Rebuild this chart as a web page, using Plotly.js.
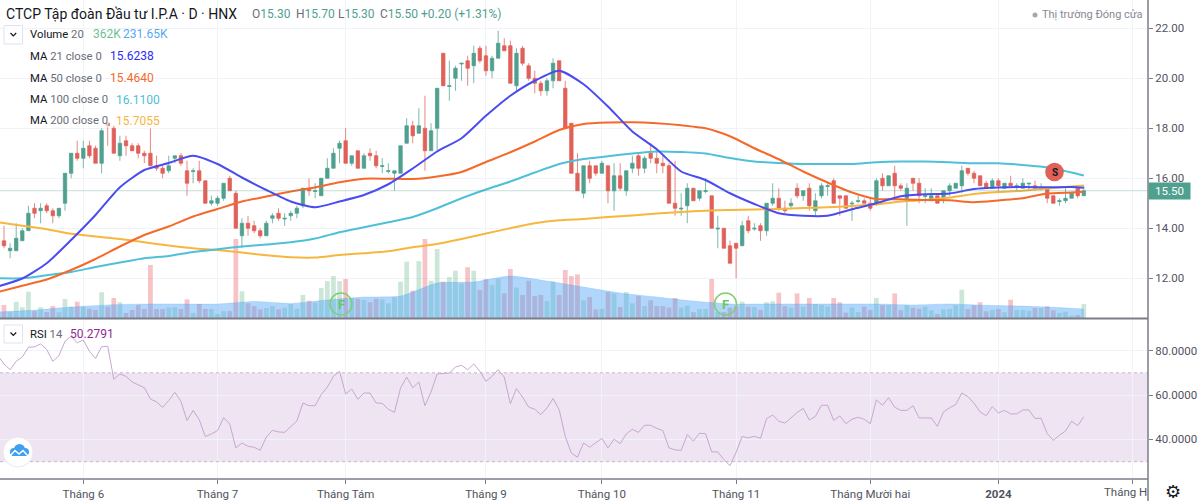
<!DOCTYPE html>
<html><head><meta charset="utf-8">
<script src="https://cdn.plot.ly/plotly-3.0.1.min.js"></script>
<style>html,body{margin:0;padding:0;background:#fff;overflow:hidden}#c{width:1200px;height:501px}</style>
</head><body><div id="c"></div>
<script>
const opens=[13.5,13.5,13.1,13.1,13.5,13.9,14.8,14.7,14.9,14.7,
14.5,15.0,16.2,17.0,16.8,17.3,17.2,16.6,18.2,18.0,
16.9,17.5,17.3,17.3,17.0,17.0,16.5,16.4,16.3,16.8,
16.9,16.3,16.27,16.3,15.9,15.0,15.0,15.2,16.0,15.4,
13.7,14.2,14.1,13.9,13.7,14.4,14.6,14.37,14.5,14.6,
14.9,15.6,15.47,15.3,16.0,16.4,17.2,17.5,16.6,17.1,
16.4,17.0,16.9,16.47,16.27,16.2,16.2,17.4,18.1,17.8,
18.0,17.1,18.0,21.0,19.67,20.0,20.57,20.7,20.5,21.2,
20.9,20.3,20.8,21.3,21.3,19.7,21.2,20.5,20.0,19.8,
19.5,19.9,20.7,19.6,18.2,16.2,15.4,16.5,16.5,16.2,
16.5,15.5,16.1,15.5,16.4,16.9,16.4,17.0,16.8,16.6,
16.5,15.0,14.77,14.9,15.6,15.2,15.47,15.3,13.97,14.0,
13.3,13.4,13.3,14.3,13.97,14.1,13.9,15.0,15.2,14.8,
14.9,15.6,15.3,15.6,14.7,15.3,15.67,15.9,15.3,15.3,
14.97,15.07,15.1,15.0,15.0,16.0,15.7,16.2,15.7,15.2,
16.0,15.8,15.27,15.1,15.3,15.2,15.5,15.6,15.7,16.4,
16.2,16.1,15.8,15.6,15.9,15.6,15.8,15.67,15.6,15.77,
15.7,15.57,15.6,15.3,15.07,15.1,15.2,15.6,15.3];
const highs=[13.6,14.1,13.4,14.2,14.0,14.9,15.0,15.0,15.0,14.8,
14.8,16.2,17.0,17.5,17.5,17.5,17.3,18.0,18.2,18.1,
17.7,17.7,17.4,17.4,17.1,18.0,16.9,16.5,16.9,16.9,
17.0,16.7,16.4,16.7,15.9,15.3,15.3,15.8,16.1,15.5,
14.4,14.5,14.3,14.0,14.3,14.6,14.8,14.6,14.7,14.9,
15.6,16.0,15.8,16.0,16.8,17.2,17.5,18.0,16.9,17.1,
17.0,17.2,17.1,16.8,16.6,16.3,17.3,18.4,18.3,18.8,
19.3,18.2,19.6,21.0,20.7,20.5,20.6,20.9,21.3,21.3,
21.3,20.9,21.9,21.6,21.5,21.2,21.3,20.6,20.3,19.9,
20.0,20.8,20.7,19.9,18.2,17.0,16.5,16.7,16.5,16.7,
16.5,16.6,16.6,16.3,16.9,17.0,16.9,17.4,17.2,16.9,
16.6,16.7,15.4,15.8,15.6,15.5,16.0,15.3,14.5,14.0,
13.5,13.4,14.3,14.5,14.2,14.2,15.0,15.8,15.6,15.1,
15.2,15.8,15.5,15.8,15.4,15.8,15.8,16.0,15.3,15.3,
15.1,15.3,15.2,15.2,16.0,16.2,16.1,16.5,15.8,15.8,
16.0,16.0,15.6,15.6,15.3,15.5,15.8,15.8,16.5,16.4,
16.3,16.1,15.9,16.0,16.0,15.8,16.1,15.8,16.0,15.8,
15.9,15.8,15.6,15.3,15.2,15.6,15.4,15.6,15.7];
const lows=[13.2,13.2,12.8,13.1,13.5,13.9,14.4,14.2,14.6,14.2,
14.4,14.7,16.0,16.7,16.4,16.8,16.6,16.2,17.3,17.0,
16.7,16.9,17.1,16.8,16.6,16.5,16.3,16.0,16.2,16.6,
16.5,15.3,15.8,15.8,15.0,14.9,14.9,15.1,15.5,14.0,
13.2,13.7,13.8,13.6,13.7,14.2,14.3,14.1,14.3,14.4,
14.8,15.3,15.2,15.3,16.0,16.4,16.6,16.6,16.5,16.4,
16.4,16.7,16.4,16.2,16.2,15.5,16.2,17.4,17.4,17.8,
16.3,17.1,17.1,19.7,19.1,19.5,19.9,19.7,19.8,20.6,
20.1,20.0,20.8,21.1,19.8,19.5,20.5,19.9,19.4,19.3,
19.3,19.6,19.9,18.0,16.2,15.5,15.2,15.8,16.1,16.2,
15.0,14.7,15.5,15.3,16.2,16.1,16.2,16.6,16.2,16.2,
15.0,14.5,14.5,14.2,15.1,15.1,15.4,14.0,13.2,13.2,
12.6,12.0,13.3,13.8,13.9,13.5,13.7,14.9,14.7,14.6,
14.8,15.2,15.1,14.7,14.5,15.2,15.3,15.0,14.5,14.8,
14.3,15.0,15.0,14.7,14.9,15.5,15.7,15.2,15.5,14.1,
15.5,15.0,15.0,15.1,15.0,15.0,15.3,15.6,15.4,16.1,
15.8,15.7,15.6,15.6,15.4,15.6,15.7,15.5,15.6,15.5,
15.5,15.5,15.0,15.0,14.9,15.0,15.2,15.2,15.3];
const closes=[13.3,13.3,13.2,13.6,13.9,14.6,14.6,14.8,14.7,14.5,
14.8,16.2,17.0,16.8,17.2,16.9,16.6,17.9,18.1,17.0,
17.4,17.3,17.1,17.0,16.9,16.5,16.4,16.2,16.5,16.9,
16.6,15.8,16.3,15.9,15.0,15.1,15.2,15.8,15.5,14.0,
14.2,14.0,13.9,13.7,14.2,14.5,14.4,14.4,14.6,14.8,
15.6,15.5,15.5,16.0,16.4,17.0,17.4,16.6,16.9,16.4,
16.9,16.9,16.5,16.5,16.3,16.3,17.3,18.1,17.7,18.1,
17.1,17.9,19.6,19.7,19.7,20.4,20.6,20.4,21.0,20.7,
20.3,20.8,21.4,21.1,19.8,21.0,20.6,20.0,19.8,19.5,
19.9,20.6,19.9,18.0,16.2,15.5,16.5,16.0,16.2,16.6,
15.5,16.1,15.6,16.3,16.6,16.4,16.8,16.8,16.6,16.5,
15.0,14.8,14.8,15.6,15.1,15.5,15.5,14.0,14.0,13.2,
12.6,13.2,14.1,13.9,14.0,13.9,15.0,15.2,14.8,14.7,
15.0,15.3,15.5,14.9,15.1,15.7,15.7,15.0,15.2,14.8,
15.0,15.1,15.0,14.8,15.9,15.7,16.1,15.7,15.6,15.6,
15.8,15.3,15.3,15.3,15.0,15.5,15.7,15.8,16.3,16.2,
16.0,15.7,15.6,15.9,15.7,15.8,15.7,15.7,15.8,15.8,
15.6,15.6,15.2,15.0,15.1,15.2,15.4,15.3,15.5];
const volumes=[340,340,165,425,280,685,180,280,155,310,
150,495,295,425,295,240,210,670,295,520,
410,130,210,340,235,1380,235,235,270,280,
235,485,130,365,235,235,105,180,180,2055,
695,380,310,225,260,310,225,270,365,240,
600,450,400,780,960,1090,960,1015,520,500,
470,410,500,485,380,540,945,1465,710,1480,
2055,970,1795,945,1065,1230,900,1320,1230,730,
1015,860,1015,640,1275,790,600,970,570,600,
440,945,600,1250,1090,1135,460,545,225,235,
675,640,285,675,380,570,310,460,310,310,
270,520,270,320,150,235,235,1015,155,155,
270,310,425,295,285,210,410,435,660,310,
270,640,295,520,365,340,295,520,410,140,
270,155,295,210,520,340,340,640,200,330,
270,240,295,200,105,225,235,330,735,235,
330,410,175,210,235,150,475,210,210,190,
260,260,305,200,130,165,60,80,362];
const rsiValues=[77.7,74.0,71.4,75.2,77.1,81.5,81.7,83.0,80.5,75.2,77.7,84.2,86.5,83.5,84.8,79.7,76.5,81.7,82.0,67.1,
69.5,68.4,65.9,64.7,63.3,58.2,56.9,54.5,57.5,61.2,57.2,48.5,53.1,48.9,41.3,42.5,44.0,49.8,47.0,36.2,
38.4,36.9,36.5,35.1,41.1,44.1,43.4,43.2,45.8,48.3,56.4,55.2,55.2,60.2,63.6,68.4,70.7,60.5,62.7,58.1,
60.9,60.9,56.4,56.3,53.6,52.2,63.2,68.1,63.3,65.9,55.2,61.4,69.5,69.8,69.9,72.6,73.4,71.4,74.0,70.7,
66.2,68.4,71.4,68.1,56.1,62.9,59.1,54.6,53.6,51.2,54.2,58.4,53.4,41.4,33.9,32.0,38.4,36.5,38.4,
40.5,36.2,40.1,38.1,42.5,44.6,43.2,46.4,46.4,45.0,44.0,36.2,35.3,35.1,42.2,39.3,42.8,42.6,34.4,34.4,
30.9,28.2,34.2,41.4,40.7,41.4,40.5,49.4,51.0,48.2,47.4,49.7,52.1,54.0,48.8,50.4,55.4,55.4,48.6,50.6,
47.1,49.1,50.0,49.1,47.1,57.8,55.4,58.8,54.5,53.1,53.1,55.2,49.7,49.7,49.7,45.9,52.4,54.3,55.7,60.9,
59.3,56.3,52.4,50.7,54.8,51.9,53.1,51.5,51.5,53.3,53.3,49.5,49.5,42.6,39.6,41.9,43.8,48.2,46.2,50.28];
const maBars=[0,4,8,12,16,20,24,28,32,36,40,44,48,52,56,60,64,68,72,76,80,84,88,92,96,100,104,108,112,116,120,124,128,132,136,140,144,148,152,156,160,164,168,172,176,178];
const ma21=[11.67,11.99,12.6,13.53,14.53,15.64,16.33,16.61,16.9,16.57,16.03,15.53,15.07,14.84,15.07,15.33,15.76,16.39,17.07,17.6,18.5,19.3,19.9,20.3,19.76,18.87,17.87,17.16,16.27,15.93,15.4,14.97,14.6,14.5,14.5,14.76,15.0,15.28,15.36,15.39,15.57,15.63,15.65,15.64,15.65,15.62];
const ma50=[11.45,11.7,11.95,12.33,12.77,13.27,13.73,14.07,14.47,14.77,15.07,15.27,15.47,15.63,15.84,15.98,15.98,15.97,16.07,16.25,16.65,17.04,17.47,17.93,18.17,18.23,18.24,18.2,18.12,18.0,17.68,17.2,16.76,16.27,15.83,15.43,15.17,15.16,15.13,15.12,15.04,15.11,15.2,15.39,15.43,15.46];
const ma100=[12,12,12.12,12.25,12.45,12.63,12.8,12.89,13.05,13.16,13.27,13.35,13.44,13.59,13.84,14.04,14.24,14.45,14.8,15.2,15.55,15.87,16.23,16.57,16.77,16.88,16.99,17.07,17.05,16.99,16.81,16.67,16.61,16.57,16.57,16.57,16.64,16.67,16.67,16.64,16.6,16.6,16.53,16.44,16.23,16.11];
const ma200=[14.24,14.1,13.96,13.78,13.67,13.57,13.44,13.31,13.2,13.13,13.03,12.92,12.84,12.83,12.93,13.0,13.08,13.24,13.37,13.57,13.79,14.0,14.2,14.32,14.37,14.45,14.51,14.59,14.65,14.7,14.73,14.75,14.77,14.81,14.84,14.89,14.96,15.07,15.13,15.23,15.37,15.45,15.5,15.59,15.67,15.71];
const volMaBars=[0,6,12,18,24,30,36,42,48,54,60,66,72,78,84,90,96,102,108,114,120,126,132,138,144,150,156,162,168,174,178];
const volMa=[155,205,285,340,365,365,365,430,380,470,545,570,910,935,1090,960,805,650,545,440,365,365,365,365,365,340,365,330,310,270,231.65];
const tickBars=[14,36,57,80,99,121,143,164,186];
const tickLabels=['Tháng 6','Tháng 7','Tháng Tám','Tháng 9','Tháng 10','Tháng 11','Tháng Mười hai','<b>2024</b>',''];
const rsiTicks=[40,60,80];
const bars=opens.map((_,i)=>i);
const FONT='Roboto,sans-serif';
const UP='#4fa08f',DOWN='#e0605a';
const PW=1148,PH=479;
const px=x=>x/PW, py=y=>(PH-y)/PH;
const volColors=bars.map(i=>closes[i]>=opens[i]?'rgba(96,180,135,0.32)':'rgba(232,90,100,0.36)');
const maLine=(name,y,color,w)=>({type:'scatter',mode:'lines',name,x:maBars,y,xaxis:'x',yaxis:'y',line:{color,width:w,shape:'spline',smoothing:0.6},hoverinfo:'skip'});
const traces=[
 {type:'bar',name:'Volume',x:bars,y:volumes,xaxis:'x',yaxis:'y3',marker:{color:volColors,line:{width:0}},width:0.78,hoverinfo:'skip'},
 {type:'scatter',mode:'lines',name:'Vol MA',x:volMaBars,y:volMa,xaxis:'x',yaxis:'y3',fill:'tozeroy',fillcolor:'rgba(66,160,245,0.42)',line:{color:'rgba(66,160,245,0.42)',width:0.5,shape:'spline',smoothing:0.6},hoverinfo:'skip'},
 {type:'candlestick',name:'IPA',x:bars,open:opens,high:highs,low:lows,close:closes,xaxis:'x',yaxis:'y',whiskerwidth:0,
  increasing:{line:{color:'rgba(79,160,143,0.75)',width:1},fillcolor:UP},decreasing:{line:{color:'rgba(224,96,90,0.75)',width:1},fillcolor:DOWN},hoverinfo:'skip'},
 maLine('MA 200',ma200,'#f7b63e',2),maLine('MA 100',ma100,'#4fc0d8',2),maLine('MA 50',ma50,'#f5692a',2),maLine('MA 21',ma21,'#4a4cf0',2),
 {type:'scatter',mode:'lines',name:'RSI',x:bars,y:rsiValues,xaxis:'x',yaxis:'y2',line:{color:'#c9a5d2',width:1},hoverinfo:'skip'}
];
const LBL=11.3,LF=12;
const note=(x,y,text,o={})=>Object.assign({xref:'paper',yref:'paper',x:px(x),y:py(y),text,showarrow:false,xanchor:'left',yanchor:'middle',borderpad:0,font:{family:FONT,size:LBL,color:'#6a6d78'}},o);
const span=(c,t)=>`<span style="color:${c}">${t}</span>`;
const DK='#131722',GR='#6a6d78',GN='#4fa08f';
const OHLC={family:FONT,size:12,color:GN};
const annotations=[
 note(5,14,'CTCP Tập đoàn Đầu tư I.P.A · D · HNX',{font:{family:FONT,size:14,color:DK}}),
 note(250.5,14,span(GR,'O')+'15.30',{font:OHLC}),
 note(295,14,span(GR,'H')+'15.70',{font:OHLC}),
 note(337,14,span(GR,'L')+'15.30',{font:OHLC}),
 note(379,14,span(GR,'C')+'15.50',{font:OHLC}),
 note(420,14,'+0.20 (+1.31%)',{font:OHLC}),
 note(1041,15,'Thị trường Đóng cửa',{font:{family:FONT,size:11,color:'#868993'}}),
 note(29,34.5,span(DK,'Volume')+' '+span(GR,'20')),
 note(92,34.5,'362K',{font:{family:FONT,size:LF,color:'#6fbf94'}}),
 note(122,34.5,'231.65K',{font:{family:FONT,size:LF,color:'#5aa9f0'}}),
 note(29,56.5,span(DK,'MA')+' '+span(GR,'21 close 0')),
 note(109,56.5,'15.6238',{font:{family:FONT,size:LF,color:'#2a2ef0'}}),
 note(29,78,span(DK,'MA')+' '+span(GR,'50 close 0')),
 note(109,78,'15.4640',{font:{family:FONT,size:LF,color:'#f5692a'}}),
 note(29,99.5,span(DK,'MA')+' '+span(GR,'100 close 0')),
 note(115,99.5,'16.1100',{font:{family:FONT,size:LF,color:'#4fc0d8'}}),
 note(29,121,span(DK,'MA')+' '+span(GR,'200 close 0'),{bgcolor:'rgba(255,255,255,0.6)'}),
 note(115,121,'15.7055',{font:{family:FONT,size:LF,color:'#f7b63e'},bgcolor:'rgba(255,255,255,0.6)'}),
 note(29,334,span(DK,'RSI')+' '+span(GR,'14')),
 note(69,334,'50.2791',{font:{family:FONT,size:LF,color:'#8e2a96'}}),
 note(1169.5,191.2,'15.50',{xanchor:'center',width:41,height:16,bgcolor:'#4fa08f',font:{family:FONT,size:11.5,color:'#ffffff'}}),
 note(1148,492,'Tháng H',{xanchor:'right',font:{family:FONT,size:11.5,color:'#50535e'}}),
 note(341,304,'<b>F</b>',{xanchor:'center',font:{family:FONT,size:13,color:'#6cc75c'}}),
 note(725.5,304,'<b>F</b>',{xanchor:'center',font:{family:FONT,size:13,color:'#6cc75c'}}),
 note(1054.5,172,'<b>S</b>',{xanchor:'center',font:{family:FONT,size:10,color:'#131722'}}),
 note(1173,491,'⚙',{xanchor:'center',font:{family:'DejaVu Sans',size:18,color:'#131722'}})
];
const pline=(x0,y0,x1,y1,color,w)=>({type:'line',xref:'paper',yref:'paper',x0:px(x0),y0:py(y0),x1:px(x1),y1:py(y1),line:{color,width:w},layer:'above'});
const circ=(cx,cy,r,fill,color,w)=>({type:'circle',xref:'paper',yref:'paper',x0:px(cx-r),x1:px(cx+r),y0:py(cy-r),y1:py(cy+r),fillcolor:fill,line:{color,width:w},layer:'above'});
const rect=(x0,y0,x1,y1,fill,color,w)=>({type:'rect',xref:'paper',yref:'paper',x0:px(x0),x1:px(x1),y0:py(y0),y1:py(y1),fillcolor:fill,line:{color,width:w},layer:'above'});
const poly=(pts,color,w)=>({type:'path',xref:'paper',yref:'paper',path:pts.map((p,i)=>(i?'L':'M')+px(p[0])+' '+py(p[1])).join(' '),line:{color,width:w},layer:'above'});
const AX='#7b7d88';
const shapes=[
 {type:'rect',xref:'paper',yref:'y2',x0:0,x1:1,y0:30,y1:70,fillcolor:'rgba(126,40,150,0.12)',line:{width:0},layer:'below'},
 {type:'line',xref:'paper',yref:'y2',x0:0,x1:1,y0:70,y1:70,line:{color:'#c7b5cc',width:1,dash:'dot'},layer:'above'},
 {type:'line',xref:'paper',yref:'y2',x0:0,x1:1,y0:30,y1:30,line:{color:'#c7b5cc',width:1,dash:'dot'},layer:'above'},
 {type:'line',xref:'paper',yref:'y',x0:0,x1:1,y0:closes[178],y1:closes[178],line:{color:'rgba(79,160,143,0.35)',width:1},layer:'above'},
 pline(0,318.5,1148,318.5,AX,2), pline(0,479,1148,479,AX,1.5), pline(1148,0,1148,501,AX,1.5),
 rect(4,25.5,22.5,44,'rgba(255,255,255,0.9)','#e0e3eb',1),
 poly([[10.5,33],[13.3,36],[16.2,33]],DK,1.2),
 rect(4,325,22.5,343,'rgba(255,255,255,0.9)','#e0e3eb',1),
 poly([[10.5,332.5],[13.3,335.5],[16.2,332.5]],DK,1.2),
 circ(341,304,11,'rgba(255,255,255,0)','#7fcf70',1.5),
 circ(725.5,304,11,'rgba(255,255,255,0)','#7fcf70',1.5),
 circ(1054.5,172,9.3,'#e0605a','#e0605a',0),
 circ(1035,15,2.5,'#a5a7b0','#a5a7b0',0),
 circ(18,452,15,'#ffffff','#e8e8ee',1),
 circ(14,452,4,'#3f9ff0','#3f9ff0',0),circ(19.5,449.5,5.5,'#3f9ff0','#3f9ff0',0),circ(25,452,4,'#3f9ff0','#3f9ff0',0),
 rect(12,451,27,456,'#3f9ff0','#3f9ff0',0),
 poly([[10,456],[15,450.5],[19,454],[23,450.5],[28,456]],'#ffffff',1.5)
];
const TICKF={family:FONT,size:11.5,color:'#50535e'};
const layout={
 width:1200,height:501,margin:{l:0,r:52,t:0,b:22},paper_bgcolor:'#fff',plot_bgcolor:'#fff',showlegend:false,
 font:{family:FONT,size:12,color:'#50535e'},boxgap:0.2,
 xaxis:{domain:[0,1],range:[0.344,188.52],anchor:'y2',tickmode:'array',tickvals:tickBars,ticktext:tickLabels,showgrid:true,gridcolor:'#f0f3fa',gridwidth:1,zeroline:false,showline:false,ticks:'outside',ticklen:4,tickcolor:AX,tickangle:0,rangeslider:{visible:false},tickfont:TICKF},
 yaxis:{overlaying:'y3',side:'right',anchor:'x',range:[10.41,23.13],tickmode:'linear',tick0:0,dtick:2,tickformat:'.2f',showgrid:true,gridcolor:'#f0f3fa',zeroline:false,showline:false,ticks:'outside',ticklen:4,tickcolor:AX,tickfont:TICKF},
 yaxis3:{domain:[0.3361,1],anchor:'x',range:[0,8268],visible:false,showgrid:false,zeroline:false},
 yaxis2:{domain:[0,0.332],anchor:'x',side:'right',range:[22.2,93.8],tickmode:'array',tickvals:rsiTicks,tickformat:'.4f',showgrid:true,gridcolor:'#f0f3fa',zeroline:false,showline:false,ticks:'outside',ticklen:4,tickcolor:AX,tickfont:TICKF},
 annotations,shapes
};
Plotly.newPlot('c',traces,layout,{displayModeBar:false,staticPlot:true});
</script></body></html>
